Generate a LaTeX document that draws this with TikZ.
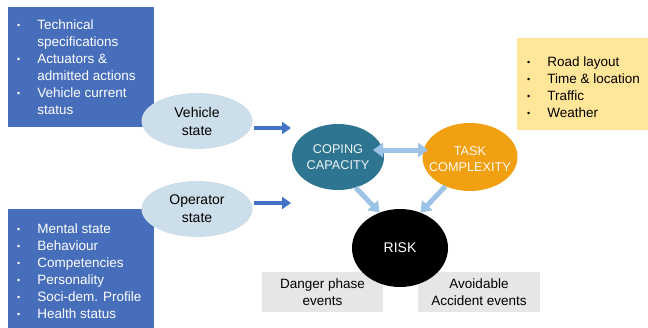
\documentclass[tikz,border=0pt]{standalone}
\usepackage{fontspec}
\setmainfont{Liberation Sans}
\usetikzlibrary{arrows.meta,shapes.geometric}
\definecolor{boxblue}{RGB}{70,110,186}
\definecolor{ellblue}{RGB}{204,222,233}
\definecolor{arrblue}{RGB}{68,114,196}
\definecolor{copteal}{RGB}{46,117,145}
\definecolor{taskor}{RGB}{240,160,16}
\definecolor{lightarr}{RGB}{157,195,230}
\definecolor{yelbox}{RGB}{255,230,153}
\definecolor{graybox}{RGB}{231,230,230}
\tikzset{
  txt/.style={font=\fontsize{13.5}{17}\selectfont, inner sep=0pt, align=left},
  stateell/.style={ellipse, fill=ellblue, minimum width=111pt, minimum height=56pt, inner sep=0pt, align=center, font=\fontsize{14}{18}\selectfont},
  bigell/.style={ellipse, inner sep=0pt},
  bigtxt/.style={inner sep=0pt, align=center, font=\fontsize{12.7}{16}\selectfont},
  bigarr/.style={line width=4pt, draw=arrblue, -{Triangle[width=12pt,length=9pt]}},
  ltarr/.style={line width=5pt, draw=lightarr, -{Triangle[width=14pt,length=10pt]}},
  ltdarr/.style={line width=5pt, draw=lightarr, {Triangle[width=14pt,length=10pt]}-{Triangle[width=14pt,length=10pt]}},
  graynode/.style={fill=graybox, inner sep=0pt, align=center, font=\fontsize{13.5}{16.5}\selectfont},
}
\newcommand{\bul}{\raisebox{1pt}{\fontsize{9}{9}\selectfont•}}
\begin{document}
\begin{tikzpicture}[x=1pt,y=-1pt]
\useasboundingbox (0,0) rectangle (648,327);
% left boxes
\node[fill=boxblue, minimum width=146pt, minimum height=120pt, inner sep=0pt] (vbox) at (81,67) {};
\node[txt, text=white, anchor=north west] (vtext) at (17,17) {\begin{tabular}{@{}l@{\hspace{17pt}}l@{}}\bul & Technical\\ & specifications\\ \bul & Actuators \&\\ & admitted actions\\ \bul & Vehicle current\\ & status\end{tabular}};
\node[fill=boxblue, minimum width=146pt, minimum height=120pt, inner sep=0pt, anchor=north west] (obox) at (8,209) {};
\node[txt, text=white, anchor=north west] (otext) at (17,221) {\begin{tabular}{@{}l@{\hspace{17pt}}l@{}}\bul & Mental state\\ \bul & Behaviour\\ \bul & Competencies\\ \bul & Personality\\ \bul & Soci-dem. Profile\\ \bul & Health status\end{tabular}};
% yellow box
\node[fill=yelbox, minimum width=132pt, minimum height=92pt, inner sep=0pt, anchor=north west] (ybox) at (517,38) {};
\node[txt, anchor=north west] (ytext) at (527,54) {\begin{tabular}{@{}l@{\hspace{17pt}}l@{}}\bul & Road layout\\ \bul & Time \& location\\ \bul & Traffic\\ \bul & Weather\end{tabular}};
% ellipses
\node[stateell] (veh) at (197,121) {Vehicle\\state};
\node[stateell] (op) at (197,209) {Operator\\state};
\coordinate (vend) at (291,128);
\coordinate (oend) at (291,203);
\draw[bigarr] (veh.east |- vend) ++(1,0) -- (vend);
\draw[bigarr] (op.east |- oend) ++(1,0) -- (oend);
% gray boxes
\node[graynode, minimum width=121pt, minimum height=40pt] (danger) at (322.5,292) {Danger phase\\events};
\node[graynode, minimum width=122pt, minimum height=40pt] (avoid) at (479,292) {Avoidable\\Accident events};
% circles
\node[bigell, fill=copteal, minimum width=92pt, minimum height=66pt] (cope) at (338,157) {};
\node[bigtxt, text=white!92!copteal] (copet) at (cope) {COPING\\CAPACITY};
\node[bigell, fill=taskor, minimum width=95pt, minimum height=68pt] (task) at (470,157) {};
\node[bigtxt, text=white!95!taskor] (taskt) at ([yshift=-2pt]task) {TASK\\COMPLEXITY};
\node[bigell, fill=black, minimum width=96pt, minimum height=78pt] (risk) at (400,248) {};
\node[inner sep=0pt, text=white, font=\fontsize{14}{16}\selectfont] (riskt) at (risk) {RISK};
\coordinate (dl) at (373,150);
\coordinate (dr) at (428,150);
\draw[ltdarr] (dl) -- (dr);
\draw[ltarr] (cope.-60) -- (risk.120);
\draw[ltarr] (task.-130) -- (risk.60);
\end{tikzpicture}
\end{document}
